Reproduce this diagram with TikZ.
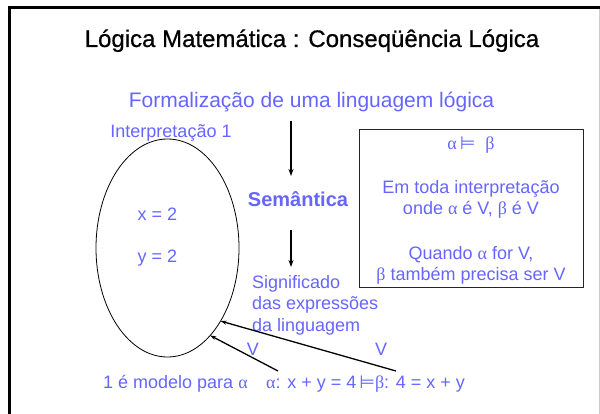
\documentclass[tikz,border=0pt]{standalone}
\usepackage{fontspec}
\setmainfont{Liberation Sans}
\newfontfamily\titlefont[FakeBold=0.6]{Liberation Sans}
\newfontfamily\grkfont{Liberation Serif}
\newfontfamily\symfont{DejaVu Sans}
\usetikzlibrary{arrows.meta,shapes.geometric}
\definecolor{txtblue}{RGB}{102,102,255}
\newcommand{\myal}{{\grkfont α}}
\newcommand{\mybe}{{\grkfont β}}
\newcommand{\mymod}{{\symfont ⊨}}
\begin{document}
\begin{tikzpicture}[x=1pt,y=-1pt,
  lbl/.style={text=txtblue, inner sep=0pt, anchor=base, font=\fontsize{18}{21}\selectfont},
  lblw/.style={lbl, anchor=base west},
  arr/.style={-{Stealth[length=7pt,width=5pt]}, line width=1.3pt},
  thinarr/.style={-{Stealth[length=6pt,width=4pt]}, line width=1.3pt}]
\useasboundingbox (0,0) rectangle (600,414);
\fill[white] (0,0) rectangle (600,414);
% frame
\draw[line width=3pt] (9.5,414) -- (9.5,7.5) -- (600,7.5);
\draw[gray!40, line width=0.8pt] (599.5,9) -- (599.5,414);
% title
\node[inner sep=0pt, anchor=base, font=\fontsize{24}{28}\titlefont] (title) at (312,47) {Lógica Matemática : Conseqüência Lógica};
\node[lbl, font=\fontsize{21}{25}\selectfont] (formal) at (311.5,108) {Formalização de uma linguagem lógica};
\node[lbl] (interp) at (171,138) {Interpretação 1};
\node[lbl, font=\fontsize{20}{24}\selectfont\bfseries] (sem) at (298,207) {Semântica};
\node[lblw] (sig1) at (252,288) {Significado};
\node[lblw] (sig2) at (252,309.5) {das expressões};
\node[lblw] (sig3) at (252,331) {da linguagem};
% ellipse
\node[draw, ellipse, line width=0.8pt, minimum width=143pt, minimum height=218pt, inner sep=0pt, outer sep=0pt] (ell) at (167.5,248) {};
\node[lbl] (x2) at (157.5,221) {x = 2};
\node[lbl] (y2) at (157.5,263) {y = 2};
% vertical arrows
\coordinate (a1s) at (291,121);
\coordinate (a1e) at (291,176);
\coordinate (a2s) at (291,230);
\coordinate (a2e) at (291,267);
\draw[arr] (a1s) -- (a1e);
\draw[arr] (a2s) -- (a2e);
% box
\node[draw=black!85, line width=1pt, minimum width=224pt, minimum height=158pt, inner sep=0pt] (box) at (471,209) {};
\node[lbl] (b1) at (471,150) {\myal\,\mymod\ \ \mybe};
\node[lbl] (b2) at (471,194) {Em toda interpretação};
\node[lbl] (b3) at (471,215) {onde \myal{} é V, \mybe{} é V};
\node[lbl] (b4) at (471,260) {Quando \myal{} for V,};
\node[lbl] (b5) at (471,280) {\mybe{} também precisa ser V};
% bottom
\node[lblw] (model) at (103,388) {1 é modelo para \myal};
\node[lblw] (formula) at (266,388) {\myal: x + y = 4\,\mymod\mybe: 4 = x + y};
\node[lbl] (v1) at (253,355) {V};
\node[lbl] (v2) at (381,355) {V};
\coordinate (s1) at (278,371);
\coordinate (s2) at (396,371);
\draw[thinarr] (s1) -- (ell.-64.5);
\draw[thinarr] (s2) -- (ell.-54.3);
\end{tikzpicture}
\end{document}
